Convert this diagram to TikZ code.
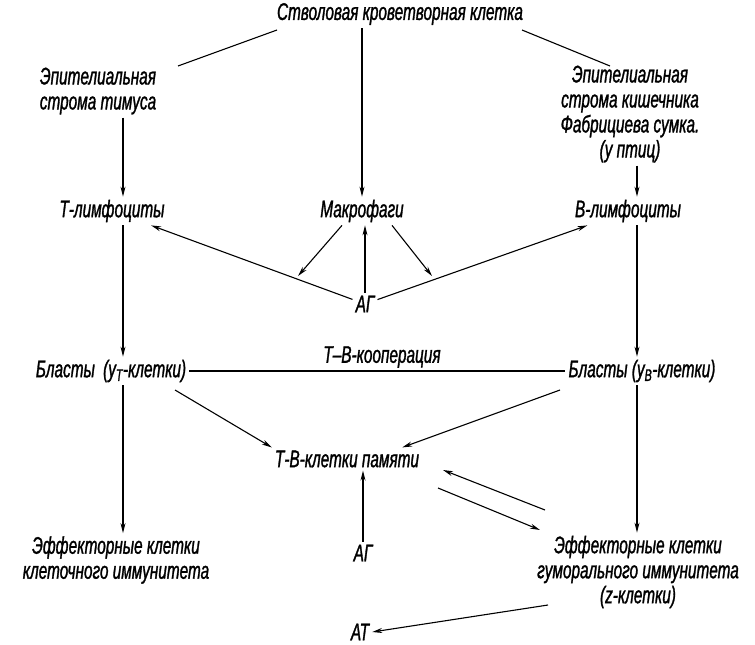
\documentclass[tikz,border=0pt]{standalone}
\usepackage{fontspec}
\newfontfamily\lab{Liberation Sans}[FakeStretch=0.64,FakeBold=1.2]
\usetikzlibrary{arrows.meta}
\begin{document}
\begin{tikzpicture}[x=1pt,y=-1pt,
  lbl/.style={font=\lab\itshape\fontsize{24}{25}\selectfont, align=center, inner sep=3pt},
  ln/.style={line width=1.1pt},
  arr/.style={ln,-{Stealth[length=10pt,width=5pt]}}]
\useasboundingbox (0,0) rectangle (755,645);
\node[lbl] (stem) at (400,14) {Стволовая кроветворная клетка};
\node[lbl] (epl) at (98,91) {Эпителиальная\\строма тимуса};
\node[lbl] (epr) at (630,114) {Эпителиальная\\строма кишечника\\Фабрициева сумка.\\(у птиц)};
\node[lbl] (tl) at (112,211) {Т-лимфоциты};
\node[lbl] (mac) at (362,211) {Макрофаги};
\node[lbl] (bl) at (628,211) {В-лимфоциты};
\node[lbl] (ag1) at (365,304) {АГ};
\node[lbl] (coop) at (382,357) {Т–В-кооперация};
\node[lbl] (blt) at (111,371) {Бласты \,(у\textsubscript{Т}-клетки)};
\node[lbl] (blb) at (642,371) {Бласты (у\textsubscript{В}-клетки)};
\node[lbl] (mem) at (347,459) {Т-В-клетки памяти};
\node[lbl] (ag2) at (363,553) {АГ};
\node[lbl] (efl) at (116,560) {Эффекторные клетки\\клеточного иммунитета};
\node[lbl] (efr) at (638,572) {Эффекторные клетки\\гуморального иммунитета\\(z-клетки)};
\node[lbl] (at) at (360,632) {АТ};
% connector end points
\coordinate (s1) at (277,30);  \coordinate (s1e) at (178,66);
\coordinate (s2) at (522,30);  \coordinate (s2e) at (610,66);
\coordinate (lx) at (123,0);   \coordinate (rx) at (637,0);
\coordinate (m1) at (298,276); \coordinate (m2) at (432,276);
\coordinate (b1) at (175,390); \coordinate (b2) at (560,390);
\coordinate (e1) at (545,510); \coordinate (e2) at (540,530);
\coordinate (q1) at (443,470); \coordinate (q2) at (438,488);
\coordinate (f1) at (548,605);
% from stem cell
\draw[ln] (s1) -- (s1e);
\draw[ln] (s2) -- (s2e);
\draw[arr] (mac.north |- stem.south) -- (mac.north);
\draw[arr] (lx |- epl.south) -- (lx |- tl.north);
\draw[arr] (rx |- epr.south) -- (rx |- bl.north);
% macrophage / antigen
\draw[arr] ([xshift=-20pt]mac.south) -- (m1);
\draw[arr] ([xshift=30pt]mac.south) -- (m2);
\draw[arr] (ag1.north) -- ([xshift=3pt]mac.south);
\draw[arr] (ag1) -- (tl);
\draw[arr] (ag1) -- (bl);
% verticals to blasts
\draw[arr] (lx |- tl.south) -- (lx |- blt.north);
\draw[arr] (rx |- bl.south) -- (rx |- blb.north);
% cooperation line
\draw[ln] (blt.east) -- (blb.west);
% blasts to memory
\draw[arr] (b1) -- (mem.north west);
\draw[arr] (b2) -- ([xshift=-20pt]mem.north east);
% blasts to effectors
\draw[arr] (lx |- blt.south) -- (lx |- efl.north);
\draw[arr] (rx |- blb.south) -- (rx |- efr.north);
% antigen to memory
\draw[arr] (ag2.north) -- ([xshift=16pt]mem.south);
% memory <-> effectors
\draw[arr] (e1) -- (q1);
\draw[arr] (q2) -- (e2);
% effectors to antibodies
\draw[arr] (f1) -- (at.east);
\end{tikzpicture}
\end{document}
